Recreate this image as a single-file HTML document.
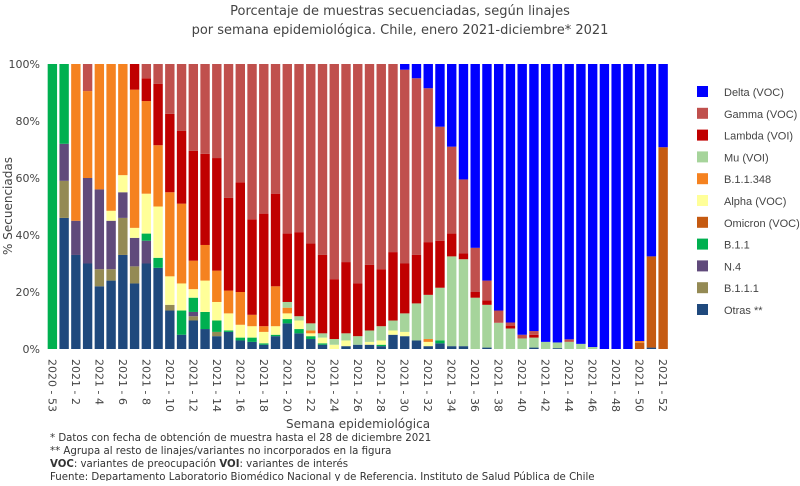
<!DOCTYPE html>
<html><head><meta charset="utf-8"><style>
body{margin:0;background:#fff;width:800px;height:481px;overflow:hidden;font-family:"Liberation Sans","DejaVu Sans",sans-serif}
svg text{font-family:"DejaVu Sans","Liberation Sans",sans-serif}
svg #leg text{font-family:"Liberation Sans",sans-serif}
</style></head><body>
<svg id="c" width="800" height="481">
<text x="400" y="15" text-anchor="middle" font-size="13" fill="#444">Porcentaje de muestras secuenciadas, según linajes</text>
<text x="400" y="34" text-anchor="middle" font-size="13" fill="#444">por semana epidemiológica. Chile, enero 2021-diciembre* 2021</text>
<g id="bars"></g>
<g id="yax"></g>
<g id="xax"></g>
<g id="leg"></g>
<text transform="translate(12,206) rotate(-90)" text-anchor="middle" font-size="12" fill="#444">% Secuenciadas</text>
<text x="358" y="428" text-anchor="middle" font-size="12" fill="#444">Semana epidemiológica</text>
<g font-size="10.2" fill="#333">
<text x="50" y="441">* Datos con fecha de obtención de muestra hasta el 28 de diciembre 2021</text>
<text x="50" y="454">** Agrupa al resto de linajes/variantes no incorporados en la figura</text>
<text x="50" y="467"><tspan font-weight="bold">VOC</tspan>: variantes de preocupación <tspan font-weight="bold">VOI</tspan>: variantes de interés</text>
<text x="50" y="480">Fuente: Departamento Laboratorio Biomédico Nacional y de Referencia. Instituto de Salud Pública de Chile</text>
</g>
</svg>
<script>
const weeks=["2020 - 53"];for(let i=1;i<=52;i++)weeks.push("2021 - "+i);
const series=["Otras **","B.1.1.1","N.4","B.1.1","Alpha (VOC)","Omicron (VOC)","B.1.1.348","Mu (VOI)","Lambda (VOI)","Gamma (VOC)","Delta (VOC)"];
const colors=["#1f497d","#948a54","#604a7b","#00b050","#ffff99","#c55a11","#f58220","#a6d49b","#c00000","#c0504d","#0000ff"];
const otras=[0,46,33,30,22,24,33,23,30,28.5,13.5,5,10,7,4.5,6,3,2.5,1.5,4.5,9,5.5,3.5,1.5,0,1,1.5,1.5,1,5,4.5,3,1,2,1,1,0,0.5,0,0,0,0.5,0,0.3,0,0,0,0,0,0,0,0.5,0];
const b111=[0,13,0,0,6,4,13,6,0,0,2,0,1.5,0,1.5,0,0,0,0,0,0,0,0,0,0,0,0,0,0,0,0,0,0,0,0,0,0,0,0,0,0,0,0,0,0,0,0,0,0,0,0,0,0];
const n4=[0,13,12,30,28,17,9,10,8,0,0,0,1.5,0,0,0,0,0,0,0,0,0,0,0,0,0,0,0,0,0,0,0,0,0,0,0,0,0,0,0,0,0,0,0,0,0,0,0,0,0,0,0,0];
const b11=[100,28,0,0,0,0,0,0,2.5,3.5,0,8.5,5,6,4,0.5,1,1.5,0.5,0.5,1.5,1.5,1,0.5,0,0,0,0,0.5,0,0,0,0,1,0,0,0,0,0,0,0,0,0,0,0,0,0,0,0,0,0,0,0];
const alpha=[0,0,0,0,0,3.5,6,3.5,14,18,10,9.5,3,11,6.5,6,4.5,4,4,3,2,3,1,2,1.5,2,0,1,1.5,1.5,1.5,0,1.5,0,0,0,0,0,0,0,0,0,0,0,0,0,0,0,0,0,0,0,0];
const omicron=[0,0,0,0,0,0,0,0,0,0,0,0,0,0,0,0,0,0,0,0,0,0,0,0,0,0,0,0,0,0,0,0,0,0,0,0,0,0,0,0,0,0,0,0,0,0,0,0,0,0,2.2,32,70.8];
const b11348=[0,0,55,30.5,44,51.5,39,48.5,32.5,21.5,29.5,28,10,12.5,11,8,11.5,4,2,14,2,0,1,0,0,0,0,0,0,0,0,0,1,0,0,0,0,0,0,0,0,0,0,0,0,0,0,0,0,0,0.6,0,0];
const mu=[0,0,0,0,0,0,0,0,0,0,0,0,0,0,0,0,0,0,0,0,2,1.5,2.5,1.5,2,2.5,3,4,5,3.5,6.5,13,15.5,18.5,31.5,30.5,18,15,9.2,7.2,3.7,3.5,2.5,2,2.5,1.8,0.7,0,0,0,0,0,0];
const lambda=[0,0,0,0,0,0,0,9,8,21.5,27.5,25.5,38.5,32,39.5,32.5,38.5,33.5,39.5,32.5,24,29.5,28,27.5,21,25,18.5,23,20,24,17.5,17,18.5,16.5,8,2,2,1.5,0,1,0,1,0,0,0,0,0,0,0,0,0,0,0];
const gamma=[0,0,0,9.5,0,0,0,0,5,7,17.5,23.5,30.5,31.5,33,47,41.5,54.5,52.5,45.5,59.5,59,63,67,75.5,69.5,77,70.5,72,66,68,62,54,40,30.5,26,15.5,7,4.3,1.1,1.3,1.3,0,0,0.9,0,0,0,0,0,0,0,0];
const values=[otras,b111,n4,b11,alpha,omicron,b11348,mu,lambda,gamma];
const NS="http://www.w3.org/2000/svg";
const L=46.5,R=669,T=64,B=349;
const band=(R-L)/weeks.length;
const xs=i=>L+i*band;
const ys=v=>B-(B-T)*v/100;
function mk(tag,at,parent){const e=document.createElementNS(NS,tag);for(const k in at)e.setAttribute(k,at[k]);parent.appendChild(e);return e;}
const bars=document.getElementById('bars');
weeks.forEach((w,i)=>{
  let acc=0;
  values.forEach((arr,s)=>{
    const v=arr[i];if(v<=0)return;
    const r=mk('rect',{x:xs(i)+band*0.1,y:ys(acc+v),width:band*0.8,height:ys(acc)-ys(acc+v),fill:colors[s]},bars);
    
    
    acc+=v;
  });
  const d=Math.max(0,100-acc);
  if(d>0){
    const r=mk('rect',{x:xs(i)+band*0.1,y:ys(100),width:band*0.8,height:ys(acc)-ys(100),fill:colors[10]},bars);
    
    
  }
});
const yticks=[0,20,40,60,80,100];
const yax=document.getElementById('yax');
yticks.forEach(t=>{const e=mk('text',{x:40,y:ys(t)+4,'text-anchor':'end','font-size':11,fill:'#444'},yax);e.textContent=t+'%';
});
const xax=document.getElementById('xax');
weeks.forEach((w,i)=>{if(i%2)return;const cx=xs(i)+band/2;
const e=mk('text',{transform:`translate(${cx-4},359) rotate(90)`,'font-size':11,fill:'#444'},xax);e.textContent=w;
});
const leg=document.getElementById('leg');
const order=[10,9,8,7,6,4,5,3,2,1,0];
order.forEach((s,k)=>{const y=86+k*21.8;
const r=mk('rect',{x:697,y:y,width:11,height:11,fill:colors[s]},leg);

const t=mk('text',{x:724,y:y+10,'font-size':11,fill:'#444'},leg);t.textContent=series[s];
});
</script>
</body></html>
